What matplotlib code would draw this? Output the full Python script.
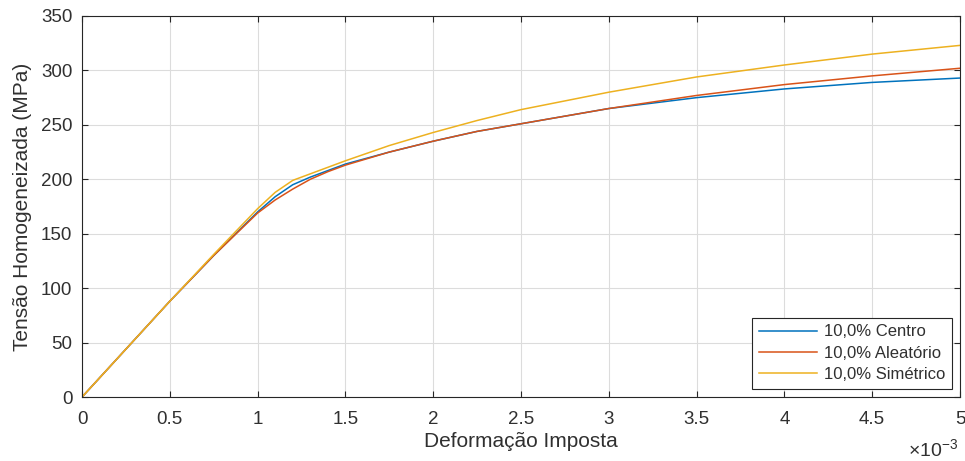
import matplotlib.pyplot as plt
import numpy as np
from matplotlib.ticker import FuncFormatter

# deformação em unidades de 1e-3
strain = [0, 0.25, 0.5, 0.75, 1.0, 1.1, 1.2, 1.3, 1.4, 1.5, 1.75, 2.0,
          2.25, 2.5, 2.75, 3.0, 3.5, 4.0, 4.5, 5.0]

centro = [0, 44, 88, 130, 170, 184, 195, 202, 208, 214, 225, 235,
          244, 251, 258, 265, 275, 283, 289, 293]
aleatorio = [0, 44, 88, 130, 169, 181, 191, 200, 207, 213, 225, 235,
             244, 251, 258, 265, 277, 287, 295, 302]
simetrico = [0, 44, 88, 131, 173, 188, 199, 205, 211, 217, 231, 243,
             254, 264, 272, 280, 294, 305, 315, 323]

labels = ["10,0% Centro", "10,0% Aleatório", "10,0% Simétrico"]
colors = ["#0072BD", "#D95319", "#EDB120"]

plt.rcParams.update({
    "font.family": ["Liberation Sans", "DejaVu Sans"],
    "font.size": 12,
    "mathtext.fontset": "custom",
    "mathtext.rm": "Liberation Sans",
})

fig = plt.figure(figsize=(9.65, 4.61), dpi=100)
ax = fig.add_axes([0.085, 0.1388, 0.9098, 0.8265])

x = np.array(strain) * 1e-3
for y, lab, c in zip([centro, aleatorio, simetrico], labels, colors):
    ax.plot(x, y, color=c, lw=1.1, label=lab)

ax.set_xlim(0, 5e-3)
ax.set_ylim(0, 350)
ax.set_xticks(np.arange(0, 5.01, 0.5) * 1e-3)
ax.set_yticks(np.arange(0, 351, 50))
ax.xaxis.set_major_formatter(FuncFormatter(lambda v, p: f"{v * 1e3:g}"))

ax.grid(True, color="#dcdcdc", lw=0.8)
ax.set_axisbelow(True)
for s in ax.spines.values():
    s.set_color("#262626")
    s.set_linewidth(0.8)
ax.tick_params(direction="in", top=True, right=True, length=4,
               colors="#262626", labelsize=13.5, labelcolor="#303030")
ax.tick_params(axis="y", pad=7)
ax.tick_params(axis="x", pad=10)

ax.set_xlabel("Deformação Imposta", fontsize=15, color="#303030", labelpad=3)
ax.set_ylabel("Tensão Homogeneizada (MPa)", fontsize=15, color="#303030", labelpad=6)
ax.text(0.998, -0.157, "×10$^{-3}$", transform=ax.transAxes,
        ha="right", va="baseline", fontsize=14, color="#303030")

leg = ax.legend(loc="lower right", fontsize=12, fancybox=False, framealpha=1,
                edgecolor="#262626", borderaxespad=0.5, handlelength=3.5,
                handletextpad=0.4, labelspacing=0.38, borderpad=0.4)
leg.get_frame().set_linewidth(0.8)
for t in leg.get_texts():
    t.set_color("#303030")

fig.savefig("out.png", dpi=100)
